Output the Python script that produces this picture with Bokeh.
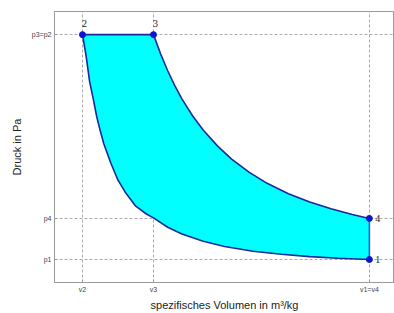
from bokeh.plotting import figure
from bokeh.models import FixedTicker, CustomJSTickFormatter, Range1d
from bokeh.embed import file_html
from bokeh.resources import INLINE

# Ticks (arbitrary units)
v_ticks = [1.00, 2.00, 5.04]
v_labels = ["v2", "v3", "v1=v4"]
p_ticks = [1.00, 2.58, 9.65]
p_labels = ["p1", "p4", "p3=p2"]

# Compression 1 -> 2 (lower curve), listed from v2 to v1
v_comp = [1.00, 1.05, 1.10, 1.15, 1.20, 1.25, 1.30, 1.40, 1.50, 1.60, 1.75, 1.90, 2.00,
          2.20, 2.40, 2.70, 3.00, 3.40, 3.80, 4.20, 4.60, 5.04]
p_comp = [9.65, 8.85, 7.85, 7.20, 6.50, 5.95, 5.45, 4.70, 4.05, 3.60, 3.05, 2.75, 2.60,
          2.24, 1.98, 1.70, 1.50, 1.32, 1.20, 1.11, 1.05, 1.00]

# Expansion 3 -> 4 (upper curve), from v3 to v4
v_exp = [2.00, 2.10, 2.20, 2.30, 2.40, 2.55, 2.70, 2.90, 3.10, 3.35, 3.60, 3.90, 4.20, 4.50, 4.80, 5.04]
p_exp = [9.65, 8.91, 8.26, 7.69, 7.18, 6.53, 5.98, 5.37, 4.86, 4.35, 3.93, 3.53, 3.21, 2.95, 2.73, 2.58]

# State points
pt_names = ["1", "2", "3", "4"]
pt_v = [5.04, 1.00, 2.00, 5.04]
pt_p = [1.00, 9.65, 9.65, 2.58]

p = figure(frame_width=340, frame_height=271, output_backend="svg", toolbar_location=None,
           x_range=Range1d(0.606, 5.394), y_range=Range1d(0.115, 10.54),
           min_border_left=54, min_border_top=11, min_border_right=0, min_border_bottom=22)
p.outline_line_color = "#9a9a9a"
p.background_fill_color = "white"
p.border_fill_color = "white"

code = """
let best=-1, d=1e9; for (let i=0;i<t.length;i++){const e=Math.abs(t[i]-tick); if(e<d){d=e;best=i;}}
return d<1e-6 ? l[best] : '';"""
fmt_x = CustomJSTickFormatter(args=dict(t=v_ticks, l=v_labels), code=code)
fmt_y = CustomJSTickFormatter(args=dict(t=p_ticks, l=p_labels), code=code)

for ax, tk, fm in ((p.xaxis[0], v_ticks, fmt_x), (p.yaxis[0], p_ticks, fmt_y)):
    ax.ticker = FixedTicker(ticks=tk)
    ax.formatter = fm
    ax.minor_tick_line_color = None
    ax.major_tick_in = 3
    ax.major_tick_out = 0
    ax.major_tick_line_color = "#9a9a9a"
    ax.axis_line_color = "#9a9a9a"
    ax.major_label_text_font = "Liberation Sans"
    ax.major_label_text_font_size = "7px"
    ax.major_label_text_color = "#444444"
    ax.major_label_standoff = 3
    ax.axis_label_text_font = "Liberation Sans"
    ax.axis_label_text_font_size = "11px"
    ax.axis_label_text_font_style = "normal"
    ax.axis_label_text_color = "#222222"
    ax.axis_label_standoff = 3

p.xaxis.axis_label = "spezifisches Volumen in m³/kg"
p.yaxis.axis_label = "Druck in Pa"
p.yaxis.major_label_orientation = "horizontal"
p.yaxis.axis_label_standoff = 6

for g, tk in ((p.xgrid[0], v_ticks), (p.ygrid[0], p_ticks)):
    g.ticker = FixedTicker(ticks=tk)
    g.grid_line_color = "#aaaaaa"
    g.grid_line_dash = "3 2"
    g.grid_line_width = 1

# Filled cycle area
xs = list(reversed(v_comp)) + v_exp
ys = list(reversed(p_comp)) + p_exp
p.patch(xs, ys, fill_color="#00ffff", line_color=None)

# Process lines
p.line(v_comp, p_comp, line_color="#1a2a9a", line_width=1.6)
p.line(v_exp, p_exp, line_color="#1a2a9a", line_width=1.6)
p.line([pt_v[1], pt_v[2]], [pt_p[1], pt_p[2]], line_color="#1a2a9a", line_width=1.6)
p.line([pt_v[3], pt_v[0]], [pt_p[3], pt_p[0]], line_color="#2f5fe0", line_width=1.6)

p.scatter(pt_v, pt_p, size=6, fill_color="#0a14d0", line_color="#0a14d0")

# Point labels: 2 and 3 above, 1 and 4 to the right
p.text([pt_v[1], pt_v[2]], [pt_p[1], pt_p[2]], text=[pt_names[1], pt_names[2]],
       x_offset=2, y_offset=-8, text_align="center", text_baseline="bottom",
       text_font_size="10px", text_font="Liberation Sans", text_color="#222222")
p.text([pt_v[0], pt_v[3]], [pt_p[0], pt_p[3]], text=[pt_names[0], pt_names[3]],
       x_offset=6, y_offset=0, text_align="left", text_baseline="middle",
       text_font_size="10px", text_font="Liberation Sans", text_color="#222222")

open("out.html", "w").write(file_html(p, INLINE))
